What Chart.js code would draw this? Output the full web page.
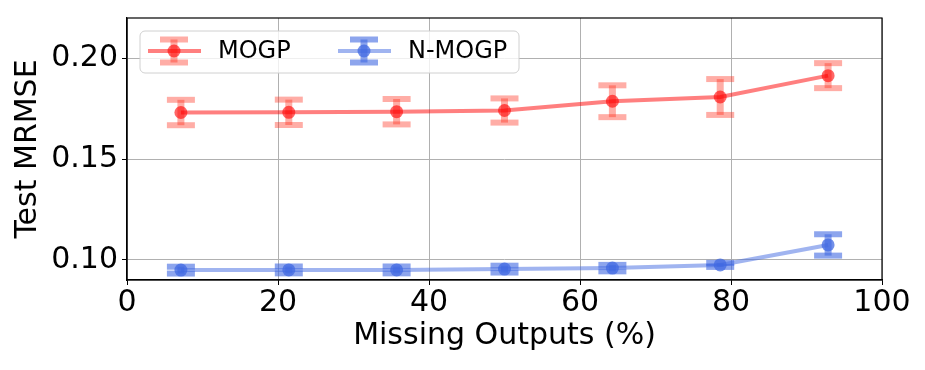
<!DOCTYPE html>
<html>
<head>
<meta charset="utf-8">
<script src="https://cdn.jsdelivr.net/npm/chart.js@4"></script>
<style>
  body { margin: 0; background: #fff; }
  #wrap { width: 925px; height: 370px; }
</style>
</head>
<body>
<div id="wrap"><canvas id="chart_mrmse" width="925" height="370"></canvas></div>
<script>
var missingPct = [7.14, 21.43, 35.71, 50.0, 64.29, 78.57, 92.86];
var mogpMean = [0.1731, 0.1732, 0.1735, 0.1741, 0.1787, 0.1808, 0.1914];
var mogpErr = [0.0063, 0.0063, 0.0063, 0.0060, 0.0079, 0.0089, 0.0062];
var nmogpMean = [0.0949, 0.0950, 0.0950, 0.0954, 0.0959, 0.0975, 0.1074];
var nmogpErr = [0.0017, 0.0017, 0.0017, 0.0017, 0.0016, 0.0010, 0.0053];
var yTicks = [0.10, 0.15, 0.20];
var seriesNames = ['MOGP', 'N-MOGP'];

var FONT = "'DejaVu Sans', sans-serif";
var styles = [
  { line: 'rgba(255,0,0,0.5)', point: 'rgba(255,0,0,0.6)', err: 'rgba(255,40,20,0.38)' },
  { line: 'rgba(65,105,225,0.5)', point: 'rgba(65,105,225,0.75)', err: 'rgba(65,105,225,0.6)' }
];
var errors = [mogpErr, nmogpErr];

function toPoints(ys) {
  return missingPct.map(function (x, i) { return { x: x, y: ys[i] }; });
}

// one error bar: vertical stem plus two thick caps
function drawErrBar(ctx, px, top, bot, color) {
  ctx.strokeStyle = color;
  ctx.lineWidth = 7;
  ctx.beginPath(); ctx.moveTo(px, top); ctx.lineTo(px, bot); ctx.stroke();
  ctx.lineWidth = 6;
  ctx.beginPath(); ctx.moveTo(px - 14, top); ctx.lineTo(px + 14, top); ctx.stroke();
  ctx.beginPath(); ctx.moveTo(px - 14, bot); ctx.lineTo(px + 14, bot); ctx.stroke();
}

var errorBars = {
  id: 'errorBars',
  beforeDatasetsDraw: function (chart) {
    var ctx = chart.ctx, xs = chart.scales.x, ys = chart.scales.y;
    ctx.save();
    chart.data.datasets.forEach(function (ds, i) {
      ds.data.forEach(function (p, j) {
        var px = xs.getPixelForValue(p.x);
        drawErrBar(ctx, px, ys.getPixelForValue(p.y + errors[i][j]),
                   ys.getPixelForValue(p.y - errors[i][j]), styles[i].err);
      });
    });
    ctx.restore();
  },
  afterDraw: function (chart) {
    var ctx = chart.ctx, ca = chart.chartArea;
    ctx.save();
    // frame
    ctx.strokeStyle = '#000';
    ctx.lineWidth = 1.2;
    ctx.strokeRect(ca.left, ca.top, ca.right - ca.left, ca.bottom - ca.top);
    // legend box
    var lx = ca.left + 13, ly = ca.top + 13, lw = 379, lh = 42;
    ctx.beginPath();
    ctx.roundRect(lx, ly, lw, lh, 5);
    ctx.fillStyle = 'rgba(255,255,255,0.8)';
    ctx.fill();
    ctx.strokeStyle = '#d0d0d0';
    ctx.lineWidth = 1;
    ctx.stroke();
    var cy = ly + 20;
    var offs = [8, 198];
    seriesNames.forEach(function (name, i) {
      var x0 = lx + offs[i];
      ctx.strokeStyle = styles[i].line;
      ctx.lineWidth = 4;
      ctx.beginPath(); ctx.moveTo(x0, cy); ctx.lineTo(x0 + 53, cy); ctx.stroke();
      drawErrBar(ctx, x0 + 26, cy - 11.5, cy + 11.5, styles[i].err);
      ctx.fillStyle = styles[i].point;
      ctx.beginPath(); ctx.arc(x0 + 26, cy, 6.5, 0, Math.PI * 2); ctx.fill();
      ctx.fillStyle = '#000';
      ctx.font = '24px ' + FONT;
      ctx.textBaseline = 'middle';
      ctx.textAlign = 'left';
      ctx.fillText(name, x0 + 70, cy + 1);
    });
    ctx.restore();
  }
};

var data = {
  datasets: [mogpMean, nmogpMean].map(function (ys, i) {
    return {
      label: seriesNames[i],
      data: toPoints(ys),
      borderColor: styles[i].line,
      borderWidth: 4,
      backgroundColor: styles[i].point,
      pointBackgroundColor: styles[i].point,
      pointBorderWidth: 0,
      pointRadius: 6.5,
      tension: 0
    };
  })
};

var config = {
  type: 'line',
  data: data,
  options: {
    responsive: false,
    animation: false,
    devicePixelRatio: 1,
    layout: { padding: { left: 0, top: 18, right: 43, bottom: 0 } },
    plugins: { legend: { display: false }, tooltip: { enabled: false } },
    scales: {
      x: {
        type: 'linear',
        min: 0, max: 100,
        ticks: { stepSize: 20, color: '#000', padding: 0, font: { family: FONT, size: 30, lineHeight: 1.2 } },
        grid: { color: '#b0b0b0', lineWidth: 1, tickLength: 5, tickColor: '#000' },
        border: { color: '#000', width: 1.2 },
        title: { display: true, text: 'Missing Outputs (%)', color: '#000', font: { family: FONT, size: 30 }, padding: { top: 0, bottom: 16 } },
        afterFit: function (s) { s.height = 90; }
      },
      y: {
        min: 0.09, max: 0.22,
        afterBuildTicks: function (s) { s.ticks = yTicks.map(function (v) { return { value: v }; }); },
        ticks: { color: '#000', padding: 4, font: { family: FONT, size: 30, lineHeight: 0.8 }, callback: function (v) { return v.toFixed(2); } },
        grid: { color: '#b0b0b0', lineWidth: 1, tickLength: 5, tickColor: '#000' },
        border: { color: '#000', width: 1.2 },
        title: { display: true, text: 'Test MRMSE', color: '#000', font: { family: FONT, size: 30 }, padding: { top: 10, bottom: 0 } },
        afterFit: function (s) { s.width = 127; s.paddingTop = 0; }
      }
    }
  },
  plugins: [errorBars]
};
new Chart(document.getElementById('chart_mrmse'), config);
</script>
</body>
</html>
